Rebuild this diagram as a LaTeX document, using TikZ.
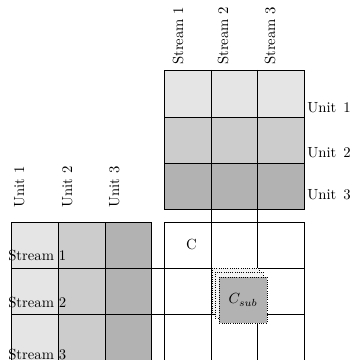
\documentclass[tikz,border=0pt]{standalone}
\begin{document}
\begin{tikzpicture}[x=0.68pt,y=-0.68pt,
  gl/.style={draw=black,line width=0.5pt},
  lbl/.style={inner sep=0pt,font=\normalsize},
  stk/.style={draw=black,densely dotted,line width=0.5pt}]
\useasboundingbox (0,0) rectangle (353,360);
% top matrix fills (rows)
\fill[gray!20] (164,70) rectangle (304,117);
\fill[gray!40] (164,117) rectangle (304,163);
\fill[gray!60] (164,163) rectangle (304,209);
% left matrix fills (columns)
\fill[gray!20] (11,222) rectangle (58,360);
\fill[gray!40] (58,222) rectangle (105,360);
\fill[gray!60] (105,222) rectangle (151,360);
% top matrix grid
\draw[gl] (164,70) rectangle (304,209);
\draw[gl] (164,117) -- (304,117);
\draw[gl] (164,163) -- (304,163);
% left matrix grid
\draw[gl] (11,360) -- (11,222) -- (151,222) -- (151,360);
\draw[gl] (58,222) -- (58,360);
\draw[gl] (105,222) -- (105,360);
% C grid
\draw[gl] (164,360) -- (164,222) -- (304,222) -- (304,360);
\draw[gl] (211,70) -- (211,360);
\draw[gl] (257,70) -- (257,360);
\draw[gl] (11,268) -- (304,268);
\draw[gl] (11,314) -- (304,314);
% top labels
\node[lbl,rotate=90,anchor=base west] (s1) at (183,65) {Stream 1};
\node[lbl,rotate=90,anchor=base west] (s2) at (228,65) {Stream 2};
\node[lbl,rotate=90,anchor=base west] (s3) at (275,65) {Stream 3};
% right labels
\node[lbl,anchor=base west] (u1) at (307,113) {Unit\hspace{1.5pt} 1};
\node[lbl,anchor=base west] (u2) at (307,158) {Unit\hspace{1.5pt} 2};
\node[lbl,anchor=base west] (u3) at (307,199) {Unit\hspace{1.5pt} 3};
% left top labels
\node[lbl,rotate=90,anchor=base west] (lu1) at (24,208) {Unit 1};
\node[lbl,rotate=90,anchor=base west] (lu2) at (72,208) {Unit 2};
\node[lbl,rotate=90,anchor=base west] (lu3) at (119,208) {Unit 3};
% left stream labels
\node[lbl,anchor=base west] (ls1) at (8,260) {Stream 1};
\node[lbl,anchor=base west] (ls2) at (8,307) {Stream 2};
\node[lbl,anchor=base west] (ls3) at (8,359) {Stream 3};
% C label
\node[lbl] (c) at (191.5,244) {C};
% stacked C_sub
\fill[gray!10] (212,268) rectangle (259,314);
\draw[stk] (212,268) rectangle (259,314);
\fill[gray!10] (215,272) rectangle (263,318);
\draw[stk] (215,272) rectangle (263,318);
\fill[gray!60] (219,277) rectangle (267,323);
\draw[stk] (219,277) rectangle (267,323);
\node[lbl] (csub) at (243,300) {$C_{sub}$};
\end{tikzpicture}
\end{document}
